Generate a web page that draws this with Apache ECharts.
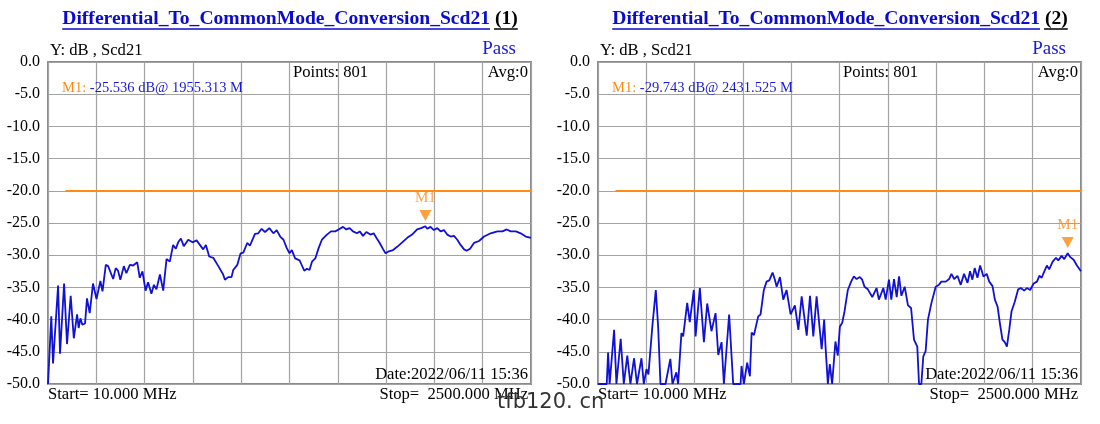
<!DOCTYPE html>
<html>
<head>
<meta charset="utf-8">
<title>Scd21</title>
<script src="https://cdn.jsdelivr.net/npm/echarts@6/dist/echarts.min.js"></script>
<style>
    html, body { margin: 0; padding: 0; background: #fff; }
    #main { width: 1100px; height: 424px; }
</style>
</head>
<body>
<div id="main"></div>
<script type="text/javascript">
    // measured trace (1): frequency in MHz, level in dB
    var leftFreq = [10, 27, 36, 62, 72, 93, 108, 127, 143, 160, 168, 177, 187, 201, 211, 225, 242, 260, 280, 291,
        308, 320, 328, 346, 359, 371, 383, 401, 414, 432, 449, 470, 483, 497, 513, 526, 543, 556, 569, 587,
        604, 621, 638, 655, 669, 681, 695, 710, 733, 755, 776, 793, 810, 824, 841, 862, 888, 913, 922, 939,
        956, 965, 986, 1003, 1017, 1037, 1051, 1077, 1094, 1111, 1129, 1151, 1172, 1189, 1207, 1224, 1241, 1255, 1267, 1284,
        1307, 1319, 1331, 1345, 1358, 1371, 1388, 1405, 1422, 1448, 1469, 1491, 1508, 1531, 1548, 1565, 1582, 1603, 1617, 1634,
        1651, 1672, 1689, 1707, 1720, 1738, 1750, 1767, 1789, 1810, 1836, 1862, 1887, 1913, 1934, 1955, 1965, 1982, 1999, 2017,
        2034, 2051, 2068, 2086, 2103, 2120, 2137, 2155, 2168, 2186, 2206, 2232, 2258, 2292, 2327, 2353, 2375, 2396, 2422, 2447,
        2473, 2500];
    var leftDb = [-50, -39.5, -46.8, -34.7, -45.3, -34.4, -43.8, -36.3, -42.9, -39.2, -41.3, -39.8, -40.8, -40.6, -36.7, -39.0, -34.4, -36.8, -34.0, -35.6,
        -31.5, -31.7, -31.5, -33.7, -32.0, -32.4, -33.8, -31.7, -32.8, -31.5, -31.6, -31.1, -33.5, -32.5, -35.5, -34.2, -36.0, -34.6, -35.3, -33.0,
        -35.5, -30.6, -31.0, -28.4, -29.0, -28.0, -27.4, -28.6, -27.6, -28.0, -27.7, -28.4, -29.1, -28.4, -30.2, -30.4, -31.7, -33.0, -33.8, -33.4,
        -33.4, -32.3, -31.5, -29.7, -29.6, -28.1, -28.5, -26.7, -26.6, -25.9, -26.4, -25.8, -26.6, -26.1, -27.1, -27.6, -28.9, -29.7, -29.2, -30.5,
        -30.8, -31.6, -32.4, -32.1, -32.3, -31.0, -30.5, -28.9, -27.6, -26.8, -26.3, -26.3, -26.0, -25.6, -26.0, -25.8, -26.3, -26.6, -26.3, -27.0,
        -26.4, -26.8, -26.6, -27.5, -28.1, -29.1, -29.7, -29.4, -29.2, -28.7, -28.0, -27.3, -26.8, -26.0, -25.8, -25.5, -25.9, -25.6, -26.1, -25.8,
        -26.3, -26.1, -26.8, -27.1, -27.0, -27.6, -28.4, -29.1, -29.3, -29.0, -28.1, -27.8, -27.1, -26.6, -26.3, -26.3, -26.0, -26.3, -26.3, -26.6,
        -27.1, -27.3];

    // measured trace (2), values under -50 dB sit on the bottom edge
    var rightFreq = [10, 55, 62, 70, 93, 105, 127, 143, 161, 177, 196, 211, 234, 246, 255, 260, 270, 290, 308, 320,
        332, 358, 383, 394, 414, 423, 440, 449, 470, 483, 504, 513, 535, 556, 573, 595, 616, 630, 647, 659,
        686, 707, 745, 750, 762, 779, 793, 802, 814, 836, 848, 865, 879, 893, 910, 922, 931, 948, 965, 982,
        1003, 1025, 1043, 1060, 1086, 1103, 1120, 1137, 1163, 1176, 1183, 1195, 1205, 1217, 1234, 1246, 1257, 1269, 1281, 1298,
        1315, 1329, 1343, 1360, 1372, 1384, 1401, 1424, 1446, 1458, 1481, 1493, 1510, 1522, 1536, 1550, 1562, 1574, 1591, 1608,
        1624, 1639, 1656, 1665, 1677, 1687, 1699, 1711, 1729, 1751, 1768, 1780, 1803, 1820, 1832, 1846, 1863, 1880, 1897, 1915,
        1928, 1940, 1952, 1966, 1980, 1997, 2014, 2027, 2044, 2056, 2070, 2083, 2095, 2107, 2118, 2130, 2142, 2159, 2176, 2190,
        2207, 2221, 2238, 2256, 2273, 2285, 2297, 2311, 2324, 2336, 2354, 2371, 2383, 2400, 2414, 2431.5, 2445, 2462, 2479, 2500];
    var rightDb = [-50, -50, -45.1, -50, -41.6, -50, -43.0, -50, -45.6, -50, -46.0, -50, -46.0, -50, -50, -47.7, -48.5, -41.1, -35.4, -41.1,
        -50, -50, -46.1, -50, -48.2, -50, -42.1, -42.6, -37.4, -40.4, -35.4, -42.6, -35.1, -43.5, -37.5, -41.8, -39.0, -45.5, -43.5, -50,
        -39.2, -50, -50, -47.2, -50, -46.7, -48.8, -42.0, -42.4, -39.5, -39.2, -35.4, -34.1, -33.9, -32.7, -33.8, -34.9, -33.4, -36.9, -35.4,
        -39.2, -37.8, -41.6, -36.4, -42.5, -36.3, -42.6, -36.4, -44.6, -40.0, -44.2, -50, -46.9, -50, -43.4, -45.6, -41.1, -40.5, -38.7, -35.4,
        -34.1, -33.3, -33.7, -33.4, -33.8, -34.9, -35.3, -36.5, -35.1, -36.9, -35.1, -36.9, -33.8, -36.9, -33.7, -36.5, -33.3, -36.3, -34.9, -37.8,
        -38.2, -43.1, -44.2, -50, -50, -45.7, -44.9, -40.0, -37.4, -34.9, -34.6, -34.1, -34.1, -33.7, -32.9, -33.7, -33.2, -34.6, -32.9, -34.3,
        -32.5, -33.8, -32.0, -33.5, -31.6, -33.3, -32.9, -34.1, -34.8, -36.9, -38.0, -40.8, -43.1, -43.5, -44.2, -41.6, -38.7, -37.2, -35.3, -35.1,
        -35.5, -35.1, -35.4, -34.4, -34.1, -33.2, -33.5, -32.5, -31.6, -32.2, -31.0, -30.4, -30.8, -30.1, -30.6, -29.7, -30.3, -30.7, -31.6, -32.5];

    var limitFreq = [100, 2500];
    var limitDb = [-20, -20];
    var markerFreq = [1955.313, 2431.525];
    var markerDb = [-25.536, -29.743];
    var panelNames = ['(1)', '(2)'];
    var startMHz = 10, stopMHz = 2500;

    var SERIF = '"Liberation Serif", "Times New Roman", serif';
    var BLUE = '#1010d6';
    var ORANGE = '#ff8a10';
    var GRIDC = '#a3a3a3';

    var myChart = echarts.init(document.getElementById('main'));

    function pairs(xs, ys) {
        var out = [];
        for (var i = 0; i < xs.length; i++) out.push([xs[i], ys[i]]);
        return out;
    }

    // text widths for the underlined titles
    var ctx = document.createElement('canvas').getContext('2d');
    function textWidth(str, font) {
        ctx.font = font;
        return ctx.measureText(str).width;
    }

    var traces = [pairs(leftFreq, leftDb), pairs(rightFreq, rightDb)];
    var grids = [], xAxes = [], yAxes = [], series = [], graphics = [];
    var titleFont = 'bold 19.6px ' + SERIF;
    var mainTitle = 'Differential_To_CommonMode_Conversion_Scd21';

    for (var p = 0; p < 2; p++) {
        var dx = p * 550;
        var left = 48 + dx;
        grids.push({ left: left, top: 62, width: 483, height: 322, show: true,
            borderColor: '#8a8a8a', borderWidth: 2, backgroundColor: 'transparent' });
        // data axis
        xAxes.push({ gridIndex: p, type: 'value', min: startMHz, max: stopMHz,
            axisLine: { show: false }, axisTick: { show: false }, axisLabel: { show: false }, splitLine: { show: false } });
        // 10 divisions for the grid lines
        xAxes.push({ gridIndex: p, type: 'value', min: 0, max: 10, interval: 1,
            axisLine: { show: false }, axisTick: { show: false }, axisLabel: { show: false },
            splitLine: { show: true, lineStyle: { color: GRIDC, width: 1.2 } } });
        yAxes.push({ gridIndex: p, type: 'value', min: -50, max: 0, interval: 5,
            axisLine: { show: false }, axisTick: { show: false },
            splitLine: { show: true, lineStyle: { color: GRIDC, width: 1.2 } },
            axisLabel: { margin: 8, color: '#000', fontFamily: SERIF, fontSize: 16,
                formatter: function (v) { return v.toFixed(1); } } });

        series.push({ type: 'line', xAxisIndex: p * 2, yAxisIndex: p, data: pairs(limitFreq, limitDb),
            symbol: 'none', silent: true, lineStyle: { color: ORANGE, width: 1.6 }, z: 3 });
        series.push({ type: 'line', xAxisIndex: p * 2, yAxisIndex: p, data: traces[p],
            symbol: 'none', silent: true, lineStyle: { color: BLUE, width: 1.8 }, z: 4 });
        series.push({ type: 'scatter', xAxisIndex: p * 2, yAxisIndex: p,
            data: [[markerFreq[p], markerDb[p]]], symbol: 'triangle', symbolRotate: 180,
            symbolSize: [12, 11], symbolOffset: [0, -11], itemStyle: { color: ORANGE }, z: 5,
            label: { show: true, position: 'top', distance: 4, formatter: 'M1', color: ORANGE,
                fontFamily: SERIF, fontSize: 15 } });

        // title with underline
        var w1 = textWidth(mainTitle, titleFont);
        var w2 = textWidth(' ' + panelNames[p], titleFont);
        var tx = 290 + dx - (w1 + w2) / 2;
        graphics.push({ type: 'text', x: tx, y: 19, style: {
            text: '{a|' + mainTitle + '}{b| ' + panelNames[p] + '}', font: titleFont,
            verticalAlign: 'middle', rich: { a: { fill: '#0a0ad0', font: titleFont }, b: { fill: '#000', font: titleFont } } } });
        graphics.push({ type: 'line', shape: { x1: tx, y1: 29, x2: tx + w1, y2: 29 }, style: { stroke: '#0a0ad0', lineWidth: 1.5 } });
        graphics.push({ type: 'line', shape: { x1: tx + w1 + 4, y1: 29, x2: tx + w1 + w2, y2: 29 }, style: { stroke: '#000', lineWidth: 1.5 } });

        var f16 = '16.6px ' + SERIF;
        graphics.push({ type: 'text', x: 50 + dx, y: 51, style: { text: 'Y: dB , Scd21', font: f16, fill: '#000', verticalAlign: 'middle' } });
        graphics.push({ type: 'text', x: 516 + dx, y: 49, style: { text: 'Pass', font: '19px ' + SERIF, fill: '#1a1ad8', align: 'right', verticalAlign: 'middle' } });
        graphics.push({ type: 'text', x: 293 + dx, y: 73, style: { text: 'Points: 801', font: f16, fill: '#000', verticalAlign: 'middle' }, z: 10 });
        graphics.push({ type: 'text', x: 528 + dx, y: 73, style: { text: 'Avg:0', font: f16, fill: '#000', align: 'right', verticalAlign: 'middle' }, z: 10 });
        graphics.push({ type: 'text', x: 62 + dx, y: 88, z: 10, style: {
            text: '{o|M1:} {b|' + markerDb[p].toFixed(3) + ' dB@ ' + markerFreq[p].toFixed(3) + ' M}',
            font: '14.5px ' + SERIF, verticalAlign: 'middle',
            rich: { o: { fill: ORANGE, font: '14.5px ' + SERIF }, b: { fill: '#1a1ad8', font: '14.5px ' + SERIF } } } });
        graphics.push({ type: 'text', x: 528 + dx, y: 375, z: 10, style: { text: 'Date:2022/06/11 15:36', font: f16, fill: '#000', align: 'right', verticalAlign: 'middle' } });
        graphics.push({ type: 'text', x: 48 + dx, y: 395, z: 10, style: { text: 'Start= ' + startMHz.toFixed(3) + ' MHz', font: f16, fill: '#000', verticalAlign: 'middle' } });
        graphics.push({ type: 'text', x: 528 + dx, y: 395, z: 10, style: { text: 'Stop=  ' + stopMHz.toFixed(3) + ' MHz', font: f16, fill: '#000', align: 'right', verticalAlign: 'middle' } });
    }

    // watermark
    graphics.push({ type: 'text', x: 497, y: 403, z: 20, style: { text: 'tfb120. cn', font: '21px "DejaVu Sans", sans-serif', fill: '#333', verticalAlign: 'middle' } });

    var option = {
        animation: false,
        backgroundColor: '#fff',
        grid: grids,
        xAxis: xAxes,
        yAxis: yAxes,
        series: series,
        graphic: graphics
    };
    myChart.setOption(option);
</script>
</body>
</html>
